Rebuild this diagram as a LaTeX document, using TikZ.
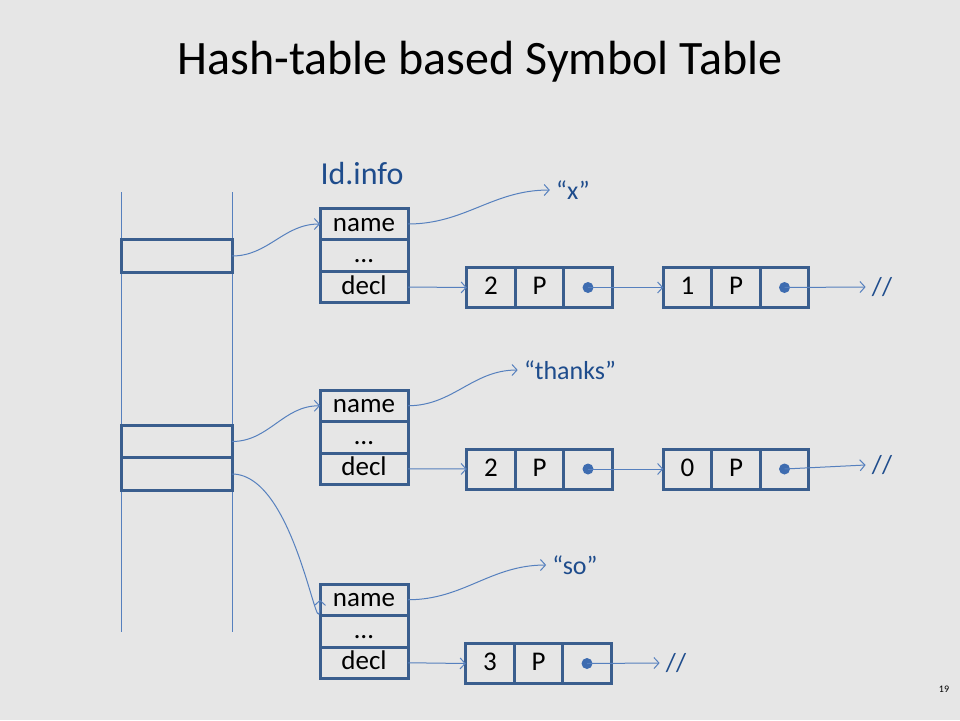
\documentclass[tikz,border=0pt]{standalone}
\usepackage{fontspec}
\setmainfont{Carlito}
\usetikzlibrary{positioning,arrows.meta}

\definecolor{slidegray}{RGB}{230,230,230}
\definecolor{boxblue}{RGB}{58,94,142}
\definecolor{lineblue}{RGB}{86,128,190}
\definecolor{dotblue}{RGB}{62,108,176}
\definecolor{textblue}{RGB}{30,76,140}

\tikzset{
  field/.style={draw=boxblue,line width=3pt,outer sep=0pt,inner sep=0pt,
    minimum width=88pt,minimum height=31.5pt,text height=18pt,text depth=4pt,
    font=\fontsize{27}{31}\selectfont},
  slot/.style={draw=boxblue,line width=3pt,outer sep=0pt,inner sep=0pt,
    minimum width=111pt,minimum height=32.5pt},
  lcell/.style={draw=boxblue,line width=3pt,outer sep=0pt,inner sep=0pt,
    minimum width=48.5pt,minimum height=40pt,text height=18pt,text depth=4pt,
    font=\fontsize{27}{31}\selectfont},
  ptr/.style={circle,fill=dotblue,inner sep=0pt,minimum size=11pt},
  str/.style={text=textblue,outer sep=3pt,font=\fontsize{26}{30}\selectfont},
  link/.style={draw=lineblue,line width=1pt,-{Straight Barb[length=5pt,width=11pt]}}
}

\begin{document}
\begin{tikzpicture}[x=1pt,y=-1pt]
% Slide background (pixel units, y downwards)
\useasboundingbox (0,0) rectangle (960,720);
\fill[slidegray] (0,0) rectangle (960,720);

\node[font=\fontsize{48}{54}\selectfont] (title) at (480,62) {Hash-table based Symbol Table};
\node[font=\fontsize{10}{12}\selectfont] (page) at (944,689) {19};

% Hash table: two rails and the used slots
\coordinate (railLtop) at (121,192);
\coordinate (railLbot) at (121,632);
\coordinate (railRtop) at (232,192);
\coordinate (railRbot) at (232,632);
\draw[lineblue,line width=1pt] (railLtop) -- (railLbot);
\draw[lineblue,line width=1pt] (railRtop) -- (railRbot);

\node[slot] (slot1) at (176.5,256) {};
\node[slot] (slot2) at (176.5,441.5) {};
\node[slot,below=0pt of slot2] (slot3) {};

% Id.info records
\node[text=textblue,font=\fontsize{32}{36}\selectfont] (idinfo) at (362,174) {Id.info};

\node[field] (name1) at (364,224) {name};
\node[field,below=0pt of name1] (dots1) {…};
\node[field,below=0pt of dots1] (decl1) {decl};

\node[field] (name2) at (364,405.75) {name};
\node[field,below=0pt of name2] (dots2) {…};
\node[field,below=0pt of dots2] (decl2) {decl};

\node[field] (name3) at (364,599.75) {name};
\node[field,below=0pt of name3] (dots3) {…};
\node[field,below=0pt of dots3] (decl3) {decl};

% Names
\node[str] (strx) at (573,190) {“x”};
\node[str] (strthanks) at (570,370) {“thanks”};
\node[str] (strso) at (575,565) {“so”};

% Declaration lists, row 1
\node[lcell] (l1a) at (491,287.5) {2};
\node[lcell,right=0pt of l1a] (l1b) {P};
\node[lcell,right=0pt of l1b] (l1c) {};
\node[ptr] (p1) at (l1c) {};
\node[lcell] (m1a) at (687.5,287.5) {1};
\node[lcell,right=0pt of m1a] (m1b) {P};
\node[lcell,right=0pt of m1b] (m1c) {};
\node[ptr] (q1) at (m1c) {};
\node[str] (nil1) at (882,287) {//};

% row 2
\node[lcell] (l2a) at (491,469) {2};
\node[lcell,right=0pt of l2a] (l2b) {P};
\node[lcell,right=0pt of l2b] (l2c) {};
\node[ptr] (p2) at (l2c) {};
\node[lcell] (m2a) at (687.5,469) {0};
\node[lcell,right=0pt of m2a] (m2b) {P};
\node[lcell,right=0pt of m2b] (m2c) {};
\node[ptr] (q2) at (m2c) {};
\node[str] (nil2) at (882,465) {//};

% row 3
\node[lcell] (l3a) at (490,663.5) {3};
\node[lcell,right=0pt of l3a] (l3b) {P};
\node[lcell,right=0pt of l3b] (l3c) {};
\node[ptr] (p3) at (l3c) {};
\node[str] (nil3) at (676,663) {//};

% Pointers from the slots (note: y points down, so -90 is up)
\draw[link] (slot1.east) to[out=0,in=180] (name1.west);
\draw[link] (slot2.east) to[out=0,in=180] (name2.west);
\draw[link] (slot3.east) to[out=0,in=-90,looseness=1.1] (name3.west);

% name fields
\draw[link] (name1.east) to[out=0,in=180] (strx.west);
\draw[link] (name2.east) to[out=0,in=180] (strthanks.west);
\draw[link] (name3.east) to[out=0,in=180] (strso.west);

% decl fields and next pointers
\draw[link] (decl1.east) -- (l1a.west);
\draw[link] (p1.center) -- (m1a.west);
\draw[link] (q1.center) -- (nil1.west);
\draw[link] (decl2.east) -- (l2a.west);
\draw[link] (p2.center) -- (m2a.west);
\draw[link] (q2.center) -- (nil2.west);
\draw[link] (decl3.east) -- (l3a.west);
\draw[link] (p3.center) -- (nil3.west);
\end{tikzpicture}
\end{document}
